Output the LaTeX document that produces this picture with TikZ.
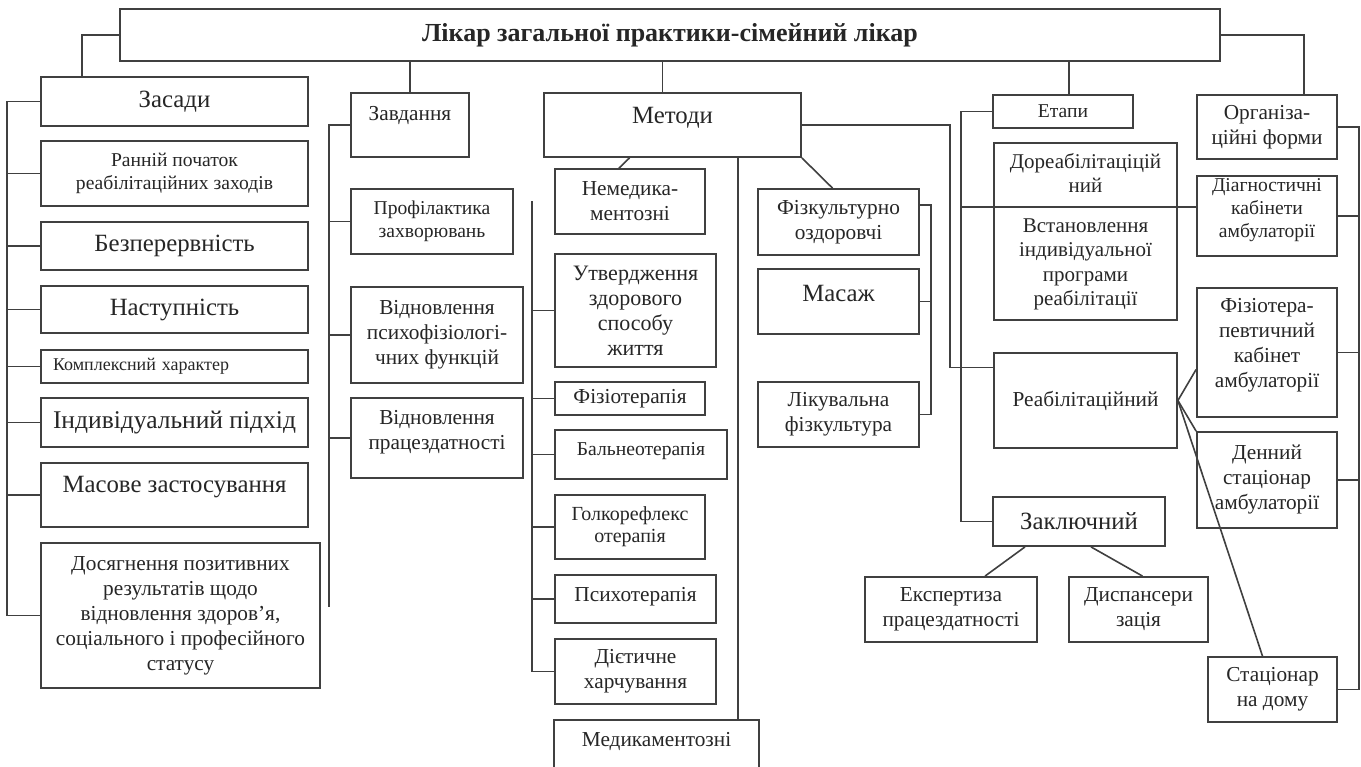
\documentclass[tikz,border=0pt]{standalone}
\usepackage{fontspec}
\setmainfont{Liberation Serif}
\begin{document}
\begin{tikzpicture}[x=1pt,y=-1pt,
  box/.style={draw=black!75, line width=1.8pt, inner sep=1pt, align=center, text=black!85, font=\fontsize{21.3}{25}\selectfont},
  wh/.style 2 args={minimum width=#1, minimum height=#2},
  lift/.style={text depth=#1},
  ftiny/.style={font=\fontsize{18}{21}\selectfont},
  fsmall/.style={font=\fontsize{19.6}{23}\selectfont},
  fbig/.style={font=\fontsize{24.8}{28}\selectfont},
  fhuge/.style={font=\fontsize{25.5}{30}\selectfont},
  link/.style={draw=black!75, line width=1.6pt}]
\path[use as bounding box, fill=white] (0,0) rectangle (1361,767);

\node[box, font=\bfseries\fontsize{26}{30}\selectfont, wh={1100}{52}] (title) at (670,35) {Лікар загальної практики-сімейний лікар};

% засади
\node[box, fbig, wh={267}{49}] (zasady) at (174.5,101.5) {Засади};
\node[box, fsmall, wh={267}{65}] (rannii) at (174.5,173.5) {Ранній початок\\реабілітаційних заходів};
\node[box, fbig, wh={267}{48}] (bezp) at (174.5,246) {Безперервність};
\node[box, fbig, wh={267}{47}] (nast) at (174.5,309.5) {Наступність};
\node[box, ftiny, wh={267}{33}, inner xsep=12, text width=243, align=left] (kompl) at (174.5,366.5) {Комплексний характер};
\node[box, fhuge, wh={267}{49}] (indyv) at (174.5,422.5) {Індивідуальний підхід};
\node[box, fbig, wh={267}{64}, lift=21] (masove) at (174.5,495) {Масове застосування};
\node[box, wh={279}{145}] (dosyag) at (180.5,615.5) {Досягнення позитивних\\результатів щодо\\відновлення здоров’я,\\соціального і професійного\\статусу};

% завдання
\node[box, wh={118}{64}, lift=24] (zavd) at (410,125) {Завдання};
\node[box, fsmall, wh={162}{65}] (profil) at (432,221.5) {Профілактика\\захворювань};
\node[box, wh={172}{96}] (psycho) at (437,335) {Відновлення\\психофізіологі-\\чних функцій};
\node[box, wh={172}{80}, lift=17] (pratsez) at (437,438) {Відновлення\\працездатності};

% методи
\node[box, fbig, wh={257}{64}, lift=20] (metody) at (672.5,125) {Методи};
\node[box, wh={150}{65}] (nemed) at (630,201.5) {Немедика-\\ментозні};
\node[box, font=\fontsize{22}{25}\selectfont, wh={161}{113}] (utverd) at (635.5,310.5) {Утвердження\\здорового\\способу\\життя};
\node[box, wh={150}{33}] (fizter) at (630,398.5) {Фізіотерапія};
\node[box, fsmall, wh={172}{49}, lift=10] (balneo) at (641,454.5) {Бальнеотерапія};
\node[box, font=\fontsize{20}{22}\selectfont, wh={150}{64}] (holko) at (630,527) {Голкорефлекс\\отерапія};
\node[box, wh={161}{48}, lift=10] (psyter) at (635.5,599) {Психотерапія};
\node[box, wh={161}{65}] (diet) at (635.5,671.5) {Дієтичне\\харчування};
\node[box, wh={205}{60}, lift=22] (medyk) at (656.5,750) {Медикаментозні};
\node[box, wh={161}{66}] (fizkult) at (838.5,222) {Фізкультурно\\оздоровчі};
\node[box, fbig, wh={161}{65}, lift=17] (masazh) at (838.5,301.5) {Масаж};
\node[box, wh={161}{65}] (likfiz) at (838.5,414.5) {Лікувальна\\фізкультура};

% етапи
\node[box, fsmall, wh={140}{33}] (etapy) at (1063,111.5) {Етапи};
\node[box, font=\fontsize{21}{24.5}\selectfont, wh={183}{177}] (dorea) at (1085.5,231.5) {Дореабілітаціцій\\ний\\[15pt]Встановлення\\індивідуальної\\програми\\реабілітації};
\node[box, wh={183}{95}] (reab) at (1085.5,400.5) {Реабілітаційний};
\node[box, fbig, wh={172}{49}] (zakl) at (1079,521.5) {Заключний};
\node[box, wh={172}{65}] (ekspert) at (951,609.5) {Експертиза\\працездатності};
\node[box, wh={139}{65}] (dispans) at (1138.5,609.5) {Диспансери\\зація};

% організаційні форми
\node[box, wh={140}{64}] (orgf) at (1267,127) {Організа-\\ційні форми};
\node[box, fsmall, wh={140}{80}, lift=15] (diag) at (1267,216) {Діагностичні\\кабінети\\амбулаторії};
\node[box, wh={140}{129}, lift=19] (fizkab) at (1267,352.5) {Фізіотера-\\певтичний\\кабінет\\амбулаторії};
\node[box, wh={140}{96}] (deniy) at (1267,480) {Денний\\стаціонар\\амбулаторії};
\node[box, wh={129}{65}] (stats) at (1272.5,689.5) {Стаціонар\\на дому};

% from the title
\draw[link] (title.west) -| ([xshift=42]zasady.north west);
\draw[link] (zavd.north) -- (zavd.north |- title.south);
\draw[link] ([xshift=-10]metody.north) -- ([xshift=-10]metody.north |- title.south);
\draw[link] ([xshift=6]etapy.north) -- ([xshift=6]etapy.north |- title.south);
\draw[link] (title.east) -| ([xshift=37]orgf.north);

% left trunk
\coordinate (ltr) at ([xshift=-33]zasady.west);
\draw[link] (ltr) |- (dosyag.west);
\foreach \n in {zasady,rannii,bezp,nast,kompl,indyv,masove}
  \draw[link] (\n.west) -- (\n.west -| ltr);

% завдання trunk
\coordinate (ztr) at ([xshift=-21]zavd.west);
\draw[link] (zavd.west) -- (ztr) -- ([yshift=-482]ztr);
\foreach \n in {profil,psycho,pratsez}
  \draw[link] (\n.west) -- (\n.west -| ztr);

% методи
\draw[link] ([xshift=-43]metody.south) -- ([xshift=-11]nemed.north);
\coordinate (mtr) at ([xshift=-22]nemed.west);
\draw[link] (mtr) |- (diet.west);
\foreach \n in {utverd,fizter,balneo,holko,psyter}
  \draw[link] (\n.west) -- (\n.west -| mtr);
\draw[link] ([xshift=-22]medyk.north east) -- ([xshift=-22]medyk.north east |- metody.south);
\draw[link] (metody.south east) -- ([xshift=-6]fizkult.north);
\coordinate (ftr) at ([xshift=11,yshift=17]fizkult.east);
\draw[link] ([yshift=17]fizkult.east) -- (ftr) |- (likfiz.east);
\draw[link] (masazh.east) -- (masazh.east -| ftr);
\coordinate (rin) at ([yshift=33]reab.west);
\draw[link] (metody.east) -| ([xshift=-43]rin) -- (rin);

% етапи trunk
\coordinate (etr) at ([xshift=-31]etapy.west);
\draw[link] (etapy.west) -- (etr) |- (zakl.west);
\draw[link] ([yshift=9]diag.west) -- ([yshift=9]diag.west -| etr);
\draw[link] (reab.east) -- ([yshift=-17]fizkab.west);
\draw[link] (reab.east) -- (deniy.north west);
\draw[link] (reab.east) -- ([xshift=-10]stats.north);
\draw[link] ([xshift=-54]zakl.south) -- ([xshift=34]ekspert.north);
\draw[link] ([xshift=12]zakl.south) -- ([xshift=4]dispans.north);

% right trunk
\coordinate (rtr) at ([xshift=21]orgf.east);
\draw[link] (orgf.east) -- (rtr) |- (stats.east);
\foreach \n in {diag,fizkab,deniy}
  \draw[link] (\n.east) -- (\n.east -| rtr);
\end{tikzpicture}
\end{document}
